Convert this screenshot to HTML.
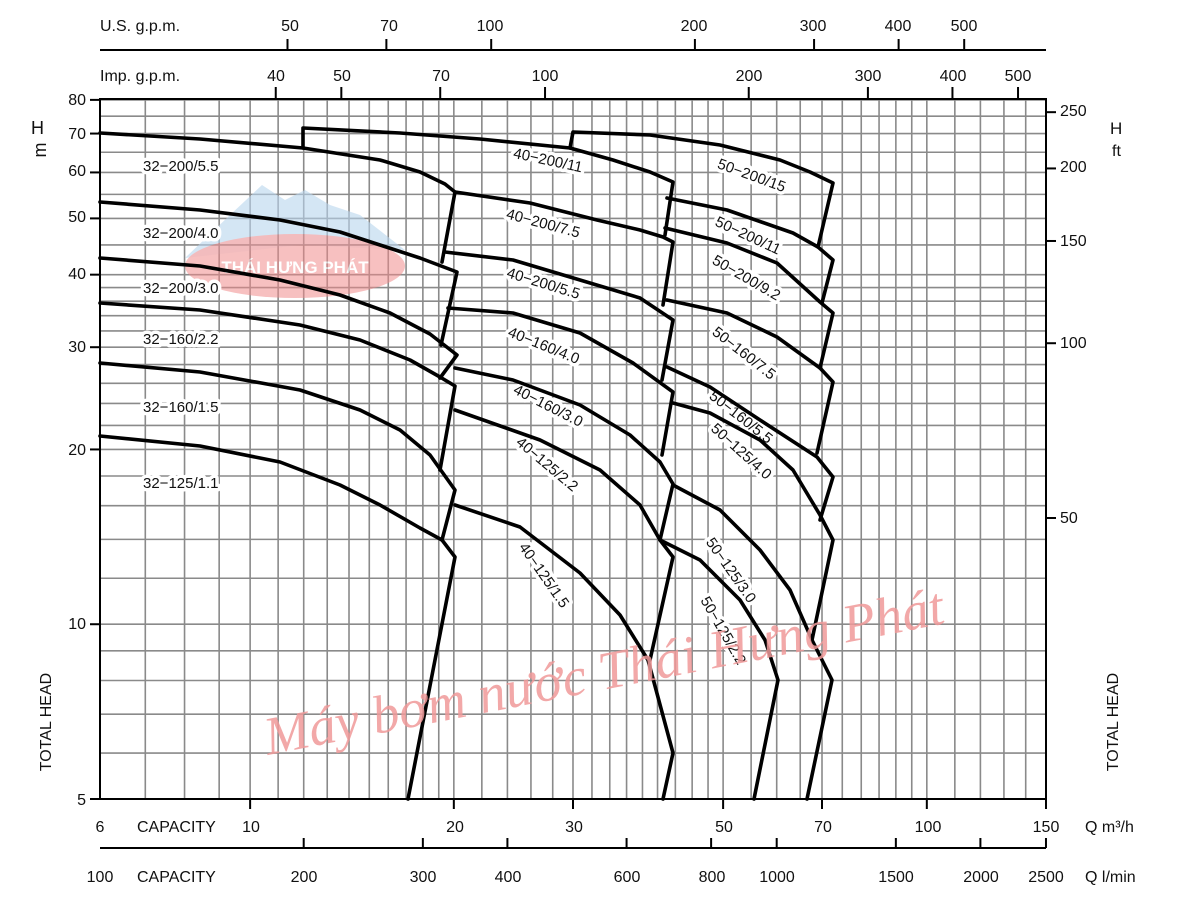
<!DOCTYPE html>
<html><head><meta charset="utf-8">
<style>
html,body{margin:0;padding:0;background:#fff;}
svg{display:block;}
text{font-family:"Liberation Sans","Noto Sans CJK SC",sans-serif;fill:#111;}
.lab{font-size:15px;paint-order:stroke;stroke:#fff;stroke-width:7px;stroke-linejoin:round;}
.ax{font-size:16px;}
.c{fill:none;stroke:#000;stroke-width:3.6;stroke-linejoin:round;stroke-linecap:round;}
</style></head>
<body>
<svg id="s" width="1200" height="900" viewBox="0 0 1200 900" xmlns="http://www.w3.org/2000/svg">
<g id="grid" stroke="#8a8a8a" stroke-width="1.6"></g>
<g id="ticks" stroke="#000" stroke-width="2"></g>
<rect x="100" y="99" width="946" height="700" fill="none" stroke="#000" stroke-width="2"/>

<g opacity="0.6">
<polygon points="185,258 230,215 262,185 285,200 305,190 330,205 360,215 405,250 300,245" fill="#b9d6ee"/>
<ellipse cx="295" cy="266" rx="110" ry="32" fill="#f08a8a" opacity="0.9"/>
<text x="295" y="273" text-anchor="middle" style="font-size:17px;font-weight:bold;fill:#fff">THÁI HƯNG PHÁT</text>
</g>

<g>
<text class="lab" x="143" y="171">32−200/5.5</text>
<text class="lab" x="143" y="238">32−200/4.0</text>
<text class="lab" x="143" y="293">32−200/3.0</text>
<text class="lab" x="143" y="344">32−160/2.2</text>
<text class="lab" x="143" y="412">32−160/1.5</text>
<text class="lab" x="143" y="488">32−125/1.1</text>
</g>
<g>
<text class="lab" text-anchor="middle" transform="translate(547,165) rotate(12)">40−200/11</text>
<text class="lab" text-anchor="middle" transform="translate(542,228) rotate(15)">40−200/7.5</text>
<text class="lab" text-anchor="middle" transform="translate(542,288) rotate(17)">40−200/5.5</text>
<text class="lab" text-anchor="middle" transform="translate(542,350) rotate(22)">40−160/4.0</text>
<text class="lab" text-anchor="middle" transform="translate(546,410) rotate(27)">40−160/3.0</text>
<text class="lab" text-anchor="middle" transform="translate(544,468) rotate(40)">40−125/2.2</text>
<text class="lab" text-anchor="middle" transform="translate(540,578) rotate(55)">40−125/1.5</text>
<text class="lab" text-anchor="middle" transform="translate(750,180) rotate(20)">50−200/15</text>
<text class="lab" text-anchor="middle" transform="translate(746,240) rotate(25)">50−200/11</text>
<text class="lab" text-anchor="middle" transform="translate(744,282) rotate(30)">50−200/9.2</text>
<text class="lab" text-anchor="middle" transform="translate(741,357) rotate(38)">50−160/7.5</text>
<text class="lab" text-anchor="middle" transform="translate(738,421) rotate(38)">50−160/5.5</text>
<text class="lab" text-anchor="middle" transform="translate(738,455) rotate(42)">50−125/4.0</text>
<text class="lab" text-anchor="middle" transform="translate(727,573) rotate(55)">50−125/3.0</text>
<text class="lab" text-anchor="middle" transform="translate(719,633) rotate(60)">50−125/2.2</text>
</g>

<g>
<polyline class="c" points="100,133 200,139 303,148 380,160 420,172 445,184 455,192 442,262"/>
<polyline class="c" points="100,202 200,210 280,220 340,232 380,245 420,258 457,272 441,345"/>
<polyline class="c" points="100,258 200,266 280,280 340,295 390,313 430,334 457,355 440,378"/>
<polyline class="c" points="100,303 200,310 300,325 360,340 410,360 440,377 455,386 440,470"/>
<polyline class="c" points="100,363 200,372 300,390 360,410 400,430 430,455 455,490 442,540"/>
<polyline class="c" points="100,436 200,446 280,462 340,485 380,505 420,528 442,540 455,557 408,799"/>

<polyline class="c" points="303,148 303,128 400,133 480,139 570,148 613,160 650,172 673,182 665,235"/>
<polyline class="c" points="455,192 530,203 597,220 640,230 663,237 673,242 663,305"/>
<polyline class="c" points="445,252 513,260 580,280 640,298 673,320 662,380"/>
<polyline class="c" points="448,308 513,313 580,333 633,363 673,392 662,455"/>
<polyline class="c" points="455,368 513,380 580,405 630,435 660,462 673,484 660,540"/>
<polyline class="c" points="455,410 540,440 600,470 640,505 660,540 673,557 650,660"/>
<polyline class="c" points="455,505 520,527 580,573 620,615 648,660 673,753 663,799"/>

<polyline class="c" points="570,148 573,132 650,135 720,145 780,160 810,172 833,183 818,247"/>
<polyline class="c" points="667,198 727,210 793,233 818,247 833,260 822,303"/>
<polyline class="c" points="665,228 727,243 777,263 820,302 833,313 820,368"/>
<polyline class="c" points="667,300 727,313 777,337 820,368 833,382 817,453"/>
<polyline class="c" points="667,367 710,387 760,420 817,457 833,477 820,520"/>
<polyline class="c" points="673,403 710,413 760,440 793,470 820,515 833,540 812,640"/>
<polyline class="c" points="673,485 720,510 760,550 790,590 812,640 832,680 807,799"/>
<polyline class="c" points="660,540 700,560 740,600 765,640 778,680 754,799"/>
</g>

<text transform="translate(268,755) rotate(-11)" style="font-family:'Liberation Serif',serif;font-style:italic;font-size:54px;fill:#f09a9a;opacity:0.85">Máy bơm nước Thái Hưng Phát</text>

<line x1="100" y1="50" x2="1046" y2="50" stroke="#000" stroke-width="2"/>
<text class="ax" x="100" y="31">U.S.  g.p.m.</text>
<text class="ax" x="100" y="81">Imp.  g.p.m.</text>

<g class="ax" text-anchor="end">
<text x="86" y="105">80</text><text x="86" y="139">70</text><text x="86" y="176">60</text>
<text x="86" y="222">50</text><text x="86" y="279">40</text><text x="86" y="352">30</text>
<text x="86" y="455">20</text><text x="86" y="629">10</text><text x="86" y="805">5</text>
</g>
<text class="ax" x="31" y="134" style="font-size:18px">H</text>
<text class="ax" transform="translate(46,150) rotate(-90)" text-anchor="middle" style="font-size:18px">m</text>
<text class="ax" transform="translate(51,722) rotate(-90)" text-anchor="middle">TOTAL  HEAD</text>
<g class="ax">
<text x="1060" y="116">250</text><text x="1060" y="172">200</text><text x="1060" y="246">150</text>
<text x="1060" y="348">100</text><text x="1060" y="523">50</text>
<text x="1110" y="134" style="font-size:17px">H</text><text x="1112" y="156">ft</text>
</g>
<text class="ax" transform="translate(1118,722) rotate(-90)" text-anchor="middle">TOTAL  HEAD</text>

<line x1="100" y1="848" x2="1046" y2="848" stroke="#000" stroke-width="2"/>
<text class="ax" x="137" y="832">CAPACITY</text>
<text class="ax" x="137" y="882">CAPACITY</text>
<text class="ax" x="1085" y="832">Q  m³/h</text>
<text class="ax" x="1085" y="882">Q  l/min</text>

<g class="ax" text-anchor="middle">
<text x="290" y="31">50</text><text x="389" y="31">70</text><text x="490" y="31">100</text>
<text x="694" y="31">200</text><text x="813" y="31">300</text><text x="898" y="31">400</text><text x="964" y="31">500</text>
<text x="276" y="81">40</text><text x="342" y="81">50</text><text x="441" y="81">70</text><text x="545" y="81">100</text>
<text x="749" y="81">200</text><text x="868" y="81">300</text><text x="953" y="81">400</text><text x="1018" y="81">500</text>
<text x="100" y="832">6</text><text x="251" y="832">10</text><text x="455" y="832">20</text><text x="574" y="832">30</text>
<text x="724" y="832">50</text><text x="823" y="832">70</text><text x="928" y="832">100</text><text x="1046" y="832">150</text>
<text x="100" y="882">100</text><text x="304" y="882">200</text><text x="423" y="882">300</text><text x="508" y="882">400</text>
<text x="627" y="882">600</text><text x="712" y="882">800</text><text x="777" y="882">1000</text>
<text x="896" y="882">1500</text><text x="981" y="882">2000</text><text x="1046" y="882">2500</text>
</g>
</svg>
<script>
(function(){
var NS="http://www.w3.org/2000/svg";
function X(q){return 100+676.7*Math.log10(q/6);}
function Y(h){return 799-580.6*Math.log10(h/5);}
function ln(g,x1,y1,x2,y2){var l=document.createElementNS(NS,"line");l.setAttribute("x1",x1);l.setAttribute("y1",y1);l.setAttribute("x2",x2);l.setAttribute("y2",y2);g.appendChild(l);}
var g=document.getElementById("grid"),tk=document.getElementById("ticks");
var xs=[],i;
for(i=6;i<=20;i++)xs.push(i);for(i=22;i<=40;i+=2)xs.push(i);
xs.push(42.5,45,47.5);for(i=50;i<=100;i+=5)xs.push(i);for(i=110;i<=150;i+=10)xs.push(i);
xs.forEach(function(q){ln(g,X(q),99,X(q),799);});
var ys=[];for(i=5;i<=10;i++)ys.push(i);for(i=12;i<=40;i+=2)ys.push(i);for(i=45;i<=80;i+=5)ys.push(i);
ys.forEach(function(h){ln(g,100,Y(h),1046,Y(h));});
[5,10,20,30,40,50,60,70,80].forEach(function(h){ln(tk,90,Y(h),100,Y(h));});
[50,100,150,200,250].forEach(function(f){var y=Y(f/3.281);ln(tk,1046,y,1056,y);});
[10,20,30,50,70,100,150].forEach(function(q){ln(tk,X(q),799,X(q),809);});
[200,300,400,600,800,1000,1500,2000,2500].forEach(function(l){var x=X(l/16.667);ln(tk,x,838,x,848);});
[50,70,100,200,300,400,500].forEach(function(u){var x=X(u/4.403);ln(tk,x,39,x,50);});
[40,50,70,100,200,300,400,500].forEach(function(u){var x=X(u/3.666);ln(tk,x,87,x,99);});
})();
</script>
</body></html>
